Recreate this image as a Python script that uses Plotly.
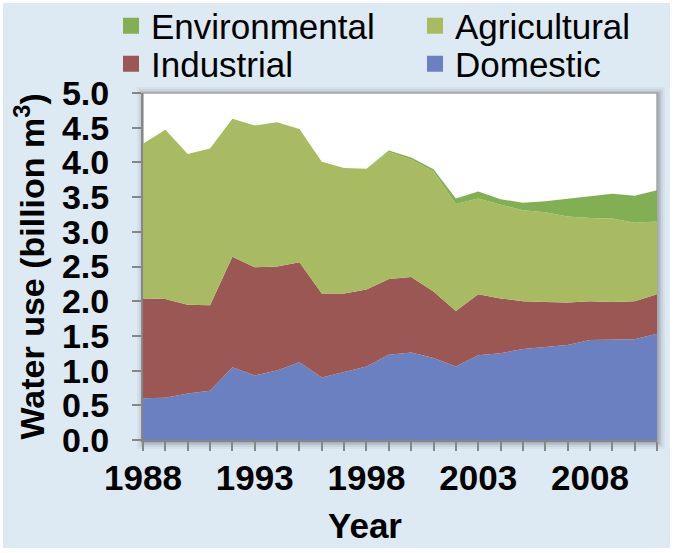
import plotly.graph_objects as go

years = list(range(1988, 2012))
domestic = [0.60, 0.61, 0.67, 0.71, 1.05, 0.93, 1.00, 1.12, 0.90, 0.98, 1.06, 1.23,
            1.26, 1.18, 1.06, 1.22, 1.25, 1.31, 1.34, 1.37, 1.44, 1.45, 1.45, 1.53]
industrial = [1.44, 1.42, 1.28, 1.23, 1.59, 1.56, 1.50, 1.44, 1.21, 1.13, 1.11, 1.09,
              1.09, 0.96, 0.80, 0.88, 0.79, 0.69, 0.65, 0.61, 0.56, 0.54, 0.55, 0.57]
agricultural = [2.23, 2.44, 2.17, 2.26, 1.99, 2.04, 2.08, 1.92, 1.90, 1.81, 1.74, 1.83,
                1.69, 1.73, 1.54, 1.38, 1.35, 1.31, 1.29, 1.24, 1.20, 1.20, 1.13, 1.05]
environmental = [0, 0, 0, 0, 0, 0, 0, 0, 0, 0, 0, 0.02,
                 0.03, 0.03, 0.08, 0.10, 0.08, 0.11, 0.16, 0.26, 0.32, 0.36, 0.39, 0.45]

series = [
    ("Domestic", domestic, "#6a80c0"),
    ("Industrial", industrial, "#9b5754"),
    ("Agricultural", agricultural, "#a8ba62"),
    ("Environmental", environmental, "#82af54"),
]
legend_rows = {"Environmental": "legend", "Agricultural": "legend",
               "Industrial": "legend2", "Domestic": "legend2"}
legend_first_col = {"Environmental", "Industrial"}
legend_order = ["Environmental", "Agricultural", "Industrial", "Domestic"]

FONT = "Arial, Liberation Sans, sans-serif"

fig = go.Figure()
for name, vals, color in series:
    fig.add_trace(go.Scatter(
        x=years, y=vals, name=name, mode="lines", stackgroup="one",
        line=dict(width=0, color=color), fillcolor=color, showlegend=False,
        hoverinfo="x+y+name",
    ))

colors = {n: c for n, _, c in series}
for name in legend_order:
    fig.add_trace(go.Scatter(
        x=[None], y=[None], mode="markers", name=name,
        marker=dict(symbol="square", size=16, color=colors[name]),
        legend=legend_rows[name], showlegend=True,
        legendwidth=259 if name in legend_first_col else 190,
    ))

L, R, T, B = 143, 18, 93, 113
W, H = 675, 553
pw, ph = W - L - R, H - T - B


def px_x(p):
    return (p - L) / pw


def px_y(p):
    return (H - B - p) / ph


shapes = [
    # light blue panel
    dict(type="rect", xref="paper", yref="paper", layer="below",
         x0=px_x(3), x1=px_x(670), y0=px_y(548), y1=px_y(3),
         fillcolor="#dde9f3", line=dict(width=0)),
]
# soft shadow around plot area
for i, op in [(7, 0.05), (5, 0.07), (3, 0.10), (1.5, 0.14)]:
    shapes.append(dict(type="rect", xref="paper", yref="paper", layer="below",
                       x0=px_x(L - i + 1), x1=px_x(L + pw + i + 1),
                       y0=px_y(H - B + i + 2), y1=px_y(T - i + 1),
                       fillcolor=f"rgba(60,60,70,{op})", line=dict(width=0)))
shapes.append(dict(type="rect", xref="paper", yref="paper", layer="below",
                   x0=0, x1=1, y0=0, y1=1, fillcolor="white",
                   line=dict(width=1.5, color="#a6a6a6")))

legend_common = dict(orientation="h", xanchor="left", yanchor="middle",
                     font=dict(size=35, family=FONT), bgcolor="rgba(0,0,0,0)",
                     itemwidth=30, traceorder="normal")

fig.update_layout(
    width=W, height=H,
    margin=dict(l=L, r=R, t=T, b=B, autoexpand=False),
    paper_bgcolor="white",
    plot_bgcolor="rgba(0,0,0,0)",
    font=dict(family=FONT, color="black"),
    shapes=shapes,
    showlegend=True,
    legend=dict(x=px_x(111), y=px_y(26), **legend_common),
    legend2=dict(x=px_x(111), y=px_y(64), **legend_common),
    xaxis=dict(
        range=[1988, 2011], tickmode="linear", tick0=1988, dtick=5,
        ticks="outside", ticklen=9, tickwidth=1.5, tickcolor="#868686",
        showline=True, linecolor="#868686", linewidth=2,
        showgrid=False, zeroline=False, automargin=False,
        tickfont=dict(size=35, family=FONT, weight="bold"),
        ticklabelstandoff=-3,
        minor=dict(dtick=1, tick0=1988, ticks="outside", ticklen=9, tickwidth=1.5,
                   tickcolor="#868686", showgrid=False),
    ),
    yaxis=dict(
        range=[0, 5], tickmode="linear", tick0=0, dtick=0.5, tickformat=".1f",
        ticks="outside", ticklen=9, tickwidth=1.5, tickcolor="#868686",
        showline=True, linecolor="#868686", linewidth=2,
        showgrid=False, zeroline=False, automargin=False,
        tickfont=dict(size=34, family=FONT, weight="bold"),
        ticklabelstandoff=16,
    ),
    annotations=[
        dict(text="Year", xref="paper", yref="paper", x=px_x(365), y=px_y(525),
             xanchor="center", yanchor="middle", showarrow=False,
             font=dict(size=35, family=FONT, weight="bold")),
        dict(text="Water use (billion m<sup>3</sup>)", xref="paper", yref="paper",
             x=px_x(29), y=0.5, textangle=-90, xanchor="center", yanchor="middle",
             showarrow=False, font=dict(size=34, family=FONT, weight="bold")),
    ],
)

fig.write_html("out.html", config={"displayModeBar": False},
               post_script="document.body.style.margin='0';")
